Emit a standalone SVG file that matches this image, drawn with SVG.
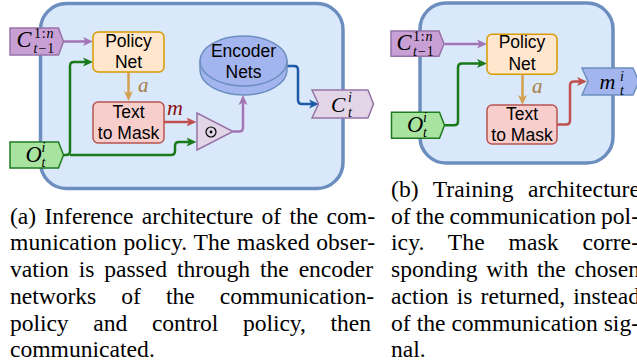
<svg xmlns="http://www.w3.org/2000/svg" width="637" height="362" viewBox="0 0 637 362">
<style>
.panel{fill:#dae8fc;stroke:#6c8ebf;stroke-width:3.5}
.orange{fill:#ffe6cc;stroke:#d79b00;stroke-width:1.5}
.red{fill:#f8cecc;stroke:#b85450;stroke-width:1.5}
.ctag{fill:#c9a0d6;stroke:#9673a6;stroke-width:1.5}
.ptag{fill:#e1d5e7;stroke:#9673a6;stroke-width:1.5}
.otag{fill:#a8e4a0;stroke:#1e7b1e;stroke-width:1.5}
.btag{fill:#a3b5ef;stroke:#6c8ebf;stroke-width:1.5}
.lbl{font-size:17.5px;fill:#000;text-anchor:middle}
.mi{font-style:italic;fill:#000}
.mr{fill:#000}
.cap{font-size:23.6px;fill:#000}
.c{fill:none;stroke-width:2.5;stroke-linejoin:round}
</style>
<defs>
<marker id="ap" viewBox="0 0 10 10" refX="4" refY="5" markerWidth="10" markerHeight="10" markerUnits="userSpaceOnUse" orient="auto"><path d="M0,0.5 L10,5 L0,9.5 L2.5,5 Z" fill="#a275b5"/></marker>
<marker id="ag" viewBox="0 0 10 10" refX="4" refY="5" markerWidth="10" markerHeight="10" markerUnits="userSpaceOnUse" orient="auto"><path d="M0,0.5 L10,5 L0,9.5 L2.5,5 Z" fill="#1a7a1a"/></marker>
<marker id="ao" viewBox="0 0 10 10" refX="4" refY="5" markerWidth="10" markerHeight="10" markerUnits="userSpaceOnUse" orient="auto"><path d="M0,0.5 L10,5 L0,9.5 L2.5,5 Z" fill="#d4a050"/></marker>
<marker id="ar" viewBox="0 0 10 10" refX="4" refY="5" markerWidth="10" markerHeight="10" markerUnits="userSpaceOnUse" orient="auto"><path d="M0,0.5 L10,5 L0,9.5 L2.5,5 Z" fill="#c0504d"/></marker>
<marker id="ab" viewBox="0 0 10 10" refX="4" refY="5" markerWidth="10" markerHeight="10" markerUnits="userSpaceOnUse" orient="auto"><path d="M0,0.5 L10,5 L0,9.5 L2.5,5 Z" fill="#1f5aa6"/></marker>
</defs>

<g id="panel-a"><rect class="panel" x="40.5" y="3.5" width="302.5" height="185" rx="26"/></g>
<g id="panel-b"><rect class="panel" x="420" y="3" width="193" height="160" rx="26"/></g>

<g id="connectors">
<path class="c" stroke="#a275b5" d="M63.5,41.5 H87" marker-end="url(#ap)"/>
<path class="c" stroke="#1a7a1a" d="M63.5,155 H66 Q70,155 70,151 V66 Q70,62 74,62 H87" marker-end="url(#ag)"/>
<path class="c" stroke="#1a7a1a" d="M70,155 H171 Q175,155 175,151 V146 Q175,142 179,142 H190.5" marker-end="url(#ag)"/>
<path class="c" stroke="#d4a050" d="M128.5,72 V95" marker-end="url(#ao)"/>
<path class="c" stroke="#c0504d" d="M164,122 H190.5" marker-end="url(#ar)"/>
<path class="c" stroke="#a275b5" d="M233,131.5 H239 Q243,131.5 243,127.5 V101" marker-end="url(#ap)"/>
<path class="c" stroke="#1f5aa6" d="M287,66 H294 Q298,66 298,70 V100 Q298,104 302,104 H313" marker-end="url(#ab)"/>
<path class="c" stroke="#a275b5" d="M444.5,44 H481" marker-end="url(#ap)"/>
<path class="c" stroke="#1a7a1a" d="M444.5,125.3 H454 Q458,125.3 458,121.3 V67.5 Q458,63.5 462,63.5 H481" marker-end="url(#ag)"/>
<path class="c" stroke="#d4a050" d="M522.5,74 V99" marker-end="url(#ao)"/>
<path class="c" stroke="#c0504d" d="M557,124.5 H566 Q570,124.5 570,120.5 V85.5 Q570,81.5 574,81.5 H581" marker-end="url(#ar)"/>
<g font-family="Liberation Serif, DejaVu Serif, serif" font-style="italic">
<text x="138" y="92" font-size="21" fill="#a67c46">a</text>
<text x="167" y="114.5" font-size="22" fill="#8a1010">m</text>
<text x="532" y="93" font-size="21" fill="#a67c46">a</text>
</g>
</g>

<g id="c-prev-a" font-family="Liberation Serif, DejaVu Serif, serif">
<path class="ctag" d="M10,28 H58.5 L63.5,41.5 L58.5,55 H10 Z"/>
<text class="mi" x="16.5" y="47" font-size="22.5">C</text>
<text class="mr" x="34" y="37.7" font-size="14" letter-spacing="0.8">1:<tspan font-style="italic">n</tspan></text>
<text class="mr" x="33.5" y="52.8" font-size="14" letter-spacing="1"><tspan font-style="italic">t</tspan>−1</text>
</g>

<g id="obs-a" font-family="Liberation Serif, DejaVu Serif, serif">
<path class="otag" d="M10,142 H58.5 L63.5,155 L58.5,168 H10 Z"/>
<text class="mi" x="25.5" y="162" font-size="22.5">O</text>
<text class="mi" x="41.5" y="151.5" font-size="14">i</text>
<text class="mi" x="41.5" y="166.5" font-size="14">t</text>
</g>

<g id="policy-a" font-family="Liberation Sans, Arial, sans-serif">
<rect class="orange" x="93" y="32" width="71" height="40" rx="5"/>
<text class="lbl" x="128.5" y="46.8">Policy</text>
<text class="lbl" x="128.5" y="68.2">Net</text>
</g>

<g id="mask-a" font-family="Liberation Sans, Arial, sans-serif">
<rect class="red" x="93" y="102" width="71" height="41" rx="5"/>
<text class="lbl" x="128.5" y="118.3">Text</text>
<text class="lbl" x="128.5" y="139.3">to Mask</text>
</g>

<g id="odot">
<polygon class="ptag" points="197,113 197,150 233,131.5"/>
<circle cx="211" cy="132" r="5" fill="none" stroke="#000" stroke-width="1.2"/>
<circle cx="211" cy="132" r="1.4" fill="#000"/>
</g>

<g id="encoder" font-family="Liberation Sans, Arial, sans-serif">
<path d="M200,61 V70 A43.5,25 0 0 0 287,70 V61 Z" fill="#a3b5ef" stroke="#6c8ebf" stroke-width="1.5"/>
<ellipse cx="243.5" cy="61" rx="43.5" ry="25" fill="#a3b5ef" stroke="#6c8ebf" stroke-width="1.5"/>
<text class="lbl" x="243.5" y="56.5">Encoder</text>
<text class="lbl" x="243.5" y="78">Nets</text>
</g>

<g id="c-out" font-family="Liberation Serif, DejaVu Serif, serif">
<path class="ptag" d="M312,90 H368 L373.5,104 L368,118 H312 L318.5,104 Z"/>
<text class="mi" x="331" y="112" font-size="21.5">C</text>
<text class="mi" x="348" y="101.5" font-size="14">i</text>
<text class="mi" x="348" y="116.5" font-size="14">t</text>
</g>

<g id="c-prev-b" font-family="Liberation Serif, DejaVu Serif, serif">
<path class="ctag" d="M391,31 H439 L444,43.7 L439,56.3 H391 Z"/>
<text class="mi" x="396.5" y="50" font-size="22.5">C</text>
<text class="mr" x="413" y="41" font-size="14" letter-spacing="0.8">1:<tspan font-style="italic">n</tspan></text>
<text class="mr" x="413" y="55.5" font-size="14" letter-spacing="1"><tspan font-style="italic">t</tspan>−1</text>
</g>

<g id="obs-b" font-family="Liberation Serif, DejaVu Serif, serif">
<path class="otag" d="M391.5,112.3 H439.5 L444.5,125.3 L439.5,138.3 H391.5 Z"/>
<text class="mi" x="407" y="132" font-size="22.5">O</text>
<text class="mi" x="423" y="121.5" font-size="14">i</text>
<text class="mi" x="423" y="136.5" font-size="14">t</text>
</g>

<g id="policy-b" font-family="Liberation Sans, Arial, sans-serif">
<rect class="orange" x="487" y="34.3" width="70" height="40" rx="5"/>
<text class="lbl" x="522" y="48.3">Policy</text>
<text class="lbl" x="522" y="70">Net</text>
</g>

<g id="mask-b" font-family="Liberation Sans, Arial, sans-serif">
<rect class="red" x="487" y="105" width="70" height="39" rx="5"/>
<text class="lbl" x="522" y="120">Text</text>
<text class="lbl" x="522" y="141.3">to Mask</text>
</g>

<g id="m-out" font-family="Liberation Serif, DejaVu Serif, serif">
<path class="btag" d="M582,68 H633 L639,81.5 L633,95 H582 L588,81.5 Z"/>
<text class="mi" x="599.5" y="89" font-size="22">m</text>
<text class="mi" x="620" y="81" font-size="14">i</text>
<text class="mi" x="620" y="95" font-size="14">t</text>
</g>

<g id="caption-a" class="cap" font-family="Liberation Serif, DejaVu Serif, serif">
<text x="10" y="223.7" word-spacing="2.36" textLength="365" lengthAdjust="spacing">(a) Inference architecture of the com-</text>
<text x="10" y="250.4" word-spacing="0.63" textLength="365" lengthAdjust="spacing">munication policy. The masked obser-</text>
<text x="10" y="277.1" word-spacing="4.18" textLength="363" lengthAdjust="spacing">vation is passed through the encoder</text>
<text x="10" y="303.8" word-spacing="19.2" textLength="364" lengthAdjust="spacing">networks of the communication-</text>
<text x="10" y="330.5" word-spacing="19" textLength="361" lengthAdjust="spacing">policy and control policy, then</text>
<text x="10" y="357.2">communicated.</text>
</g>

<g id="caption-b" class="cap" font-family="Liberation Serif, DejaVu Serif, serif">
<text x="391" y="197" word-spacing="8.5" textLength="249" lengthAdjust="spacing">(b) Training architecture</text>
<text x="391" y="223.7" word-spacing="-0.7" textLength="248" lengthAdjust="spacing">of the communication pol-</text>
<text x="391" y="250.4" word-spacing="17.9" textLength="248" lengthAdjust="spacing">icy. The mask corre-</text>
<text x="391" y="277.1" word-spacing="2.8" textLength="249" lengthAdjust="spacing">sponding with the chosen</text>
<text x="391" y="303.8" word-spacing="2.2" textLength="249" lengthAdjust="spacing">action is returned, instead</text>
<text x="391" y="330.5" word-spacing="0.2" textLength="248" lengthAdjust="spacing">of the communication sig-</text>
<text x="391" y="357.2">nal.</text>
</g>
</svg>
